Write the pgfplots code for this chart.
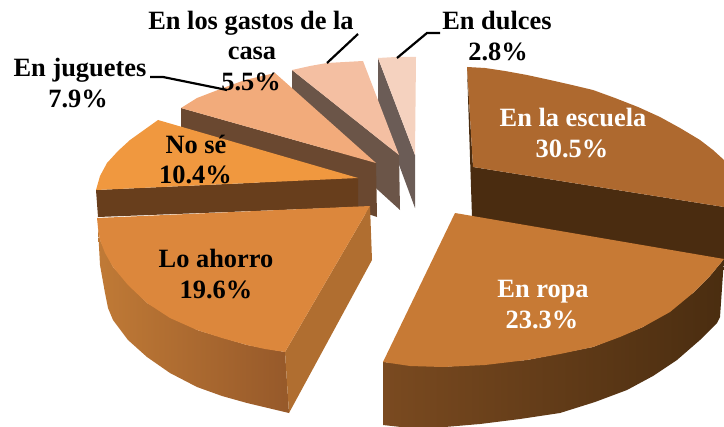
\documentclass[border=0pt]{standalone}
\usepackage{pgfplots}
\usepackage{fontspec}
\setmainfont{Liberation Serif}
\pgfplotsset{compat=1.18}
\definecolor{escT}{HTML}{AE692F}
\definecolor{escS}{HTML}{4A2C10}
\definecolor{ropT}{HTML}{C77A35}
\definecolor{ropL}{HTML}{7A4A20}
\definecolor{ropR}{HTML}{4A2D10}
\definecolor{ahoT}{HTML}{DC873C}
\definecolor{ahoS}{HTML}{B06E30}
\definecolor{ahoL}{HTML}{C07A36}
\definecolor{ahoR}{HTML}{96592A}
\definecolor{nosT}{HTML}{F0983F}
\definecolor{nosS}{HTML}{683E1C}
\definecolor{jugT}{HTML}{F2AB7B}
\definecolor{jugS}{HTML}{6A4830}
\definecolor{gasT}{HTML}{F4BFA2}
\definecolor{gasS}{HTML}{6B5548}
\definecolor{dulT}{HTML}{F5D2BF}
\definecolor{dulS}{HTML}{6B5C56}
\newcommand{\lab}[4][black]{\node[text=#1,anchor=base,font=\fontsize{26.5}{26.5}\selectfont\bfseries,inner sep=0pt] at (axis cs:#2,#3) {#4};}
\begin{document}
\begin{tikzpicture}
\begin{axis}[
  name=ax,
  scale only axis, width=724bp, height=427bp,
  xmin=0, xmax=724, ymin=0, ymax=427, y dir=reverse,
  axis lines=none, clip=true, ticks=none]
% dulces
\addplot[draw=none,fill=dulS] coordinates {(378,58)(415,155)(415,208)(378,108)} --cycle;
\addplot[draw=none,fill=dulT] coordinates {(378,58)(396,57)(416,57)(415,155)} --cycle;
% gastos
\addplot[draw=none,fill=gasS] coordinates {(292,70)(399,155)(400,210)(378,190)(292,113)} --cycle;
\addplot[draw=none,fill=gasT] coordinates {(292,70)(310,66)(327,63)(345,62)(363,61)(399,155)} --cycle;
% juguetes
\addplot[draw=none,fill=jugS] coordinates {(181,108)(376,163)(377,217)(371,215)(181,160)} --cycle;
\addplot[draw=none,fill=jugT] coordinates {(181,108)(197,98)(210,93)(223,88)(245,80)(275,73)(376,163)} --cycle;
% no se
\addplot[draw=none,fill=nosS] coordinates {(96,190)(358,178)(358,207)(98,217)} --cycle;
\addplot[draw=none,fill=nosT] coordinates {(96,190)(100,176)(107,163)(118,151)(130,140)(144,130)(158,120)(358,178)} --cycle;
% ahorro
\addplot[draw=none,left color=ahoL,right color=ahoR] coordinates {(98,228)(100,265)(105,293)(108,308)(113,320)(128,340)(147,357)(170,373)(197,387)(222,396)(247,403)(268,408)(289,413)(285,352)(247,345)(197,330)(147,303)(113,267)(100,240)} --cycle;
\addplot[draw=none,fill=ahoS] coordinates {(370,206)(372,260)(289,413)(285,352)} --cycle;
\addplot[draw=none,fill=ahoT] coordinates {(97,218)(98,228)(100,240)(105,253)(113,267)(128,285)(147,303)(170,318)(197,330)(222,338)(247,345)(265,349)(285,352)(370,206)} --cycle;
% escuela
\addplot[draw=none,fill=escS] coordinates {(467,67)(473,167)(724,207)(724,261)(472,217)} --cycle;
\addplot[draw=none,fill=escT] coordinates {(467,67)(485,68)(505,71)(527,75)(550,80)(572,85)(593,90)(615,98)(638,107)(660,117)(680,128)(700,140)(713,150)(724,160)(724,207)(473,167)} --cycle;
% ropa
\addplot[draw=none,left color=ropL,right color=ropR] coordinates {(383,362)(383,425)(410,428)(445,427)(480,424)(520,419)(560,413)(595,402)(627,390)(653,376)(677,360)(700,340)(717,323)(720,317)(724,259)(710,276)(693,293)(643,327)(593,347)(527,360)(443,367)} --cycle;
\addplot[draw=none,fill=ropT] coordinates {(455,213)(724,259)(710,276)(693,293)(670,312)(643,327)(620,337)(593,347)(560,354)(527,360)(485,365)(443,367)(410,366)(383,362)} --cycle;
% leaders
\addplot[black,line width=2.2pt] coordinates {(150,77)(163,77)(227,90)};
\addplot[black,line width=2.2pt] coordinates {(358,34)(327,63)};
\addplot[black,line width=2.2pt] coordinates {(440,33)(427,33)(397,58)};
% labels
\lab{251}{30}{En los gastos de la}
\lab{252}{60}{casa}
\lab{251}{91}{5.5\%}
\lab{80}{77}{En juguetes}
\lab{78}{107}{7.9\%}
\lab{497}{30}{En dulces}
\lab{498}{61}{2.8\%}
\lab{196}{153}{No sé}
\lab{195.5}{183}{10.4\%}
\lab{216}{267}{Lo ahorro}
\lab{216}{298}{19.6\%}
\lab[white]{573}{126}{En la escuela}
\lab[white]{572}{157}{30.5\%}
\lab[white]{543}{297}{En ropa}
\lab[white]{542}{328}{23.3\%}
\end{axis}
\path[use as bounding box] (ax.south west) rectangle (ax.north east);
\end{tikzpicture}
\end{document}
